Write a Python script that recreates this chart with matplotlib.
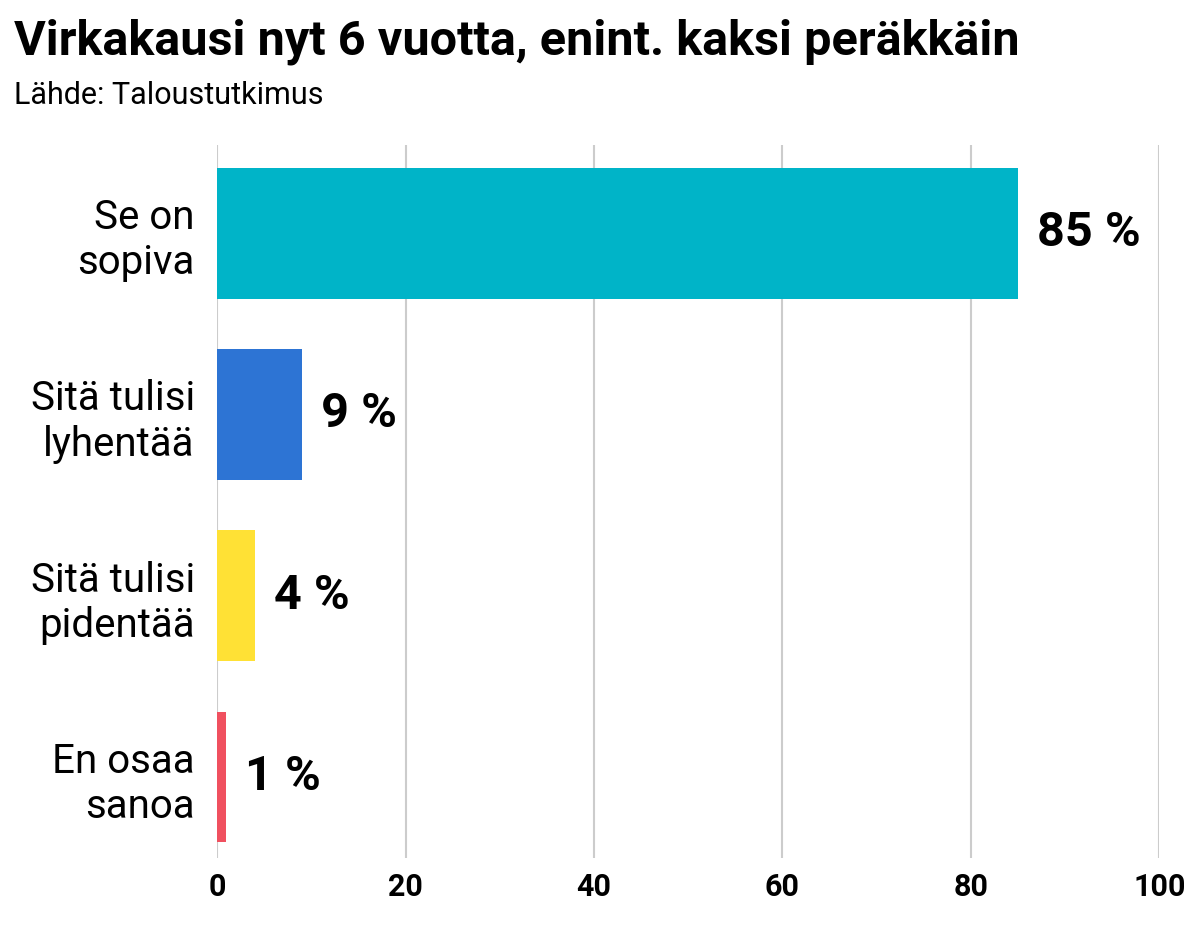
import matplotlib
matplotlib.use("Agg")
import matplotlib.pyplot as plt

categories = ["Se on\nsopiva", "Sitä tulisi\nlyhentää", "Sitä tulisi\npidentää", "En osaa\nsanoa"]
values = [85, 9, 4, 1]
colors = ["#00b4c8", "#2d74d4", "#ffe135", "#f0505f"]
xticks = [0, 20, 40, 60, 80, 100]

plt.rcParams["font.family"] = "Roboto"

fig = plt.figure(figsize=(11.99, 9.25), dpi=100)
ax = fig.add_axes([0.181, 0.072, 0.786, 0.771])

ypos = list(range(len(values)))
ax.barh(ypos, values, height=0.72, color=colors, zorder=2)
for y, v in zip(ypos, values):
    ax.text(v + 2, y, f"{v} %", va="center", ha="left", fontsize=35, fontweight="bold")

ax.set_ylim(len(values) - 1 + 0.45, -0.486)
ax.set_xlim(0, 100)
ax.set_yticks(ypos)
ax.set_yticklabels(categories, fontsize=29, ha="right", linespacing=1.2)
ax.set_xticks(xticks)
ax.set_xticklabels([str(t) for t in xticks], fontsize=22, fontweight="bold")
ax.grid(axis="x", color="#cccccc", linewidth=1.5, zorder=0)
for s in ax.spines.values():
    s.set_visible(False)
ax.tick_params(length=0, pad=10)
ax.tick_params(axis="y", pad=16)

fig.text(0.012, 0.955, "Virkakausi nyt 6 vuotta, enint. kaksi peräkkäin",
         fontsize=35, fontweight="bold", va="center")
fig.text(0.012, 0.897, "Lähde: Taloustutkimus", fontsize=22, va="center")

fig.savefig("out.png", dpi=100)
